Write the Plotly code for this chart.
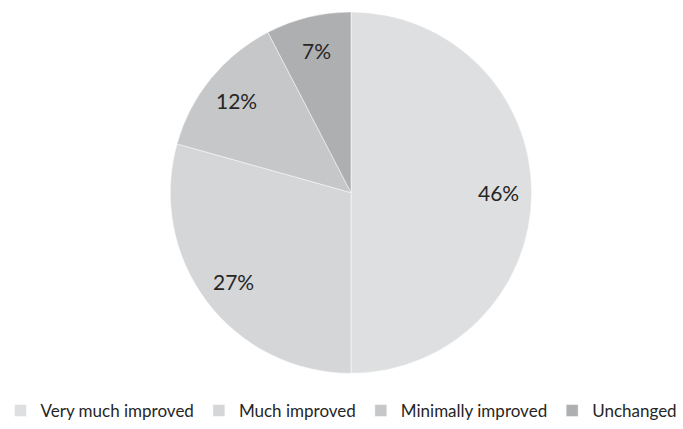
import math
import plotly.graph_objects as go

categories = ["Very much improved", "Much improved", "Minimally improved", "Unchanged"]
values = [46, 27, 12, 7]
labels_text = ["46%", "27%", "12%", "7%"]
colors = ["#dedfe1", "#d5d6d8", "#c6c7c9", "#aeafb1"]

W, H = 683, 429
cx, cy, r = 351, 194, 182
label_r = 0.81

fig = go.Figure(go.Pie(
    labels=categories,
    values=values,
    text=labels_text,
    textinfo="none",
    sort=False,
    direction="clockwise",
    rotation=0,
    marker=dict(colors=colors, line=dict(color="#ffffff", width=0.5)),
    hoverinfo="label+text",
    domain=dict(x=[(cx - r) / W, (cx + r) / W], y=[1 - (cy + r) / H, 1 - (cy - r) / H]),
))

# slice labels placed on each slice's mid-angle, derived from the values
total = sum(values)
cum = 0
annotations = []
for v, t in zip(values, labels_text):
    theta = 2 * math.pi * (cum + v / 2) / total
    cum += v
    px = cx + label_r * r * math.sin(theta)
    py = cy - label_r * r * math.cos(theta)
    annotations.append(dict(
        x=px / W, y=1 - py / H, xref="paper", yref="paper",
        text=t, showarrow=False,
        font=dict(family="Lato", size=21, color="#262626"),
        xanchor="center", yanchor="middle",
    ))

fig.update_layout(
    width=W, height=H,
    margin=dict(l=0, r=0, t=0, b=0),
    paper_bgcolor="#ffffff",
    plot_bgcolor="#ffffff",
    showlegend=True,
    annotations=annotations,
    legend=dict(
        orientation="h",
        x=0.5, xanchor="center",
        y=1 - 414 / H, yanchor="middle",
        font=dict(family="Lato", size=17, color="#262626"),
        itemwidth=30,
        traceorder="normal",
    ),
)

fig.write_html("out.html")
